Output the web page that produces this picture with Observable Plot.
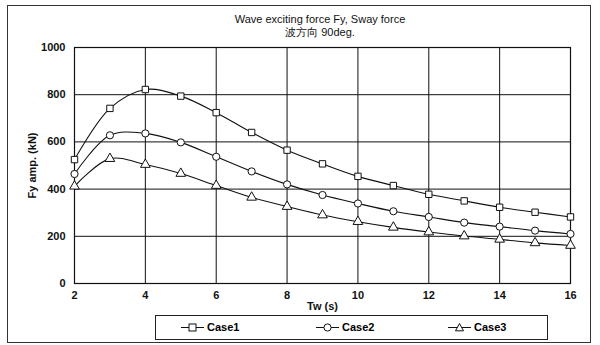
<!DOCTYPE html>
<html><head><meta charset="utf-8">
<script src="https://cdn.jsdelivr.net/npm/d3@7"></script>
<script src="https://cdn.jsdelivr.net/npm/@observablehq/plot@0.6"></script>
<style>
body{margin:0;background:#fff;font-family:"Liberation Sans",Arial,sans-serif;}
#wrap{position:relative;width:600px;height:345px;overflow:hidden;}
#border{position:absolute;left:7px;top:5px;width:584px;height:338px;border:1px solid #333;box-sizing:border-box;}
#title{position:absolute;left:0;width:640px;top:13px;text-align:center;font-size:11px;line-height:13px;color:#111;}
#legend{position:absolute;left:155px;top:315px;width:393px;height:25px;border:1px solid #222;box-sizing:border-box;font-size:11px;font-weight:bold;}
.li{position:absolute;top:5px;display:flex;align-items:center;}
.li svg{margin-right:3px;}
#chart{position:absolute;left:0;top:0;}
</style></head>
<body><div id="wrap"><div id="chart"></div><div id="border"></div>
<div id="title">Wave exciting force Fy, Sway force<br>波方向 90deg.</div>
<div id="legend"></div></div>
<script>
const tw = [2,3,4,5,6,7,8,9,10,11,12,13,14,15,16];
const case1 = [525,742,822,794,724,640,565,507,454,415,378,350,323,302,282];
const case2 = [464,628,636,598,537,475,420,375,339,306,282,258,241,224,210];
const case3 = [412,529,504,466,415,365,326,290,262,238,218,201,187,172,161];
const seriesNames = ["Case1","Case2","Case3"];
const symbols = ["square","circle","triangle"];
const xTicks = [2,4,6,8,10,12,14,16];
const yTicks = [0,200,400,600,800,1000];

const rows = [];
[case1,case2,case3].forEach((arr,i)=>arr.forEach((v,j)=>rows.push({x:tw[j],y:v,s:seriesNames[i]})));

const chart = Plot.plot({
  width:600,height:345,
  marginLeft:74,marginRight:30,marginTop:47,marginBottom:62,
  style:{fontFamily:"Liberation Sans, Arial, sans-serif",fontSize:"11px",fontWeight:"bold",color:"#111",background:"transparent"},
  x:{domain:[2,16],ticks:xTicks,tickFormat:d=>String(d),tickSize:0,tickPadding:8,label:"Tw (s)",labelAnchor:"center",labelOffset:26,labelArrow:"none"},
  y:{domain:[0,1000],ticks:yTicks,tickFormat:d=>String(d),tickSize:0,tickPadding:9,label:"Fy amp. (kN)",labelAnchor:"center",labelOffset:46,labelArrow:"none"},
  symbol:{domain:seriesNames,range:symbols},
  marks:[
    Plot.gridX(xTicks,{stroke:"#111",strokeOpacity:1,strokeWidth:1}),
    Plot.gridY(yTicks,{stroke:"#111",strokeOpacity:1,strokeWidth:1}),
    Plot.frame({stroke:"#111",strokeWidth:1.2}),
    Plot.line(rows,{x:"x",y:"y",z:"s",curve:"catmull-rom",stroke:"#111",strokeWidth:1.1}),
    Plot.dot(rows,{x:"x",y:"y",symbol:"s",r:3.6,fill:"white",stroke:"#111",strokeWidth:1})
  ]
});
document.getElementById("chart").appendChild(chart);

const leg = document.getElementById("legend");
const xs = [25,160,292];
seriesNames.forEach((n,i)=>{
  const d = document.createElement("div");
  d.className="li"; d.style.left=xs[i]+"px";
  const shape = i===0?'<rect x="8" y="2" width="7" height="7" fill="white" stroke="#111"/>':
    i===1?'<circle cx="11.5" cy="5.5" r="3.6" fill="white" stroke="#111"/>':
    '<path d="M11.5,1.5 L15.5,8.8 L7.5,8.8 Z" fill="white" stroke="#111"/>';
  d.innerHTML='<svg width="23" height="11"><line x1="0" x2="23" y1="5.5" y2="5.5" stroke="#111"/>'+shape+'</svg><span>'+n+'</span>';
  leg.appendChild(d);
});
</script></body></html>
